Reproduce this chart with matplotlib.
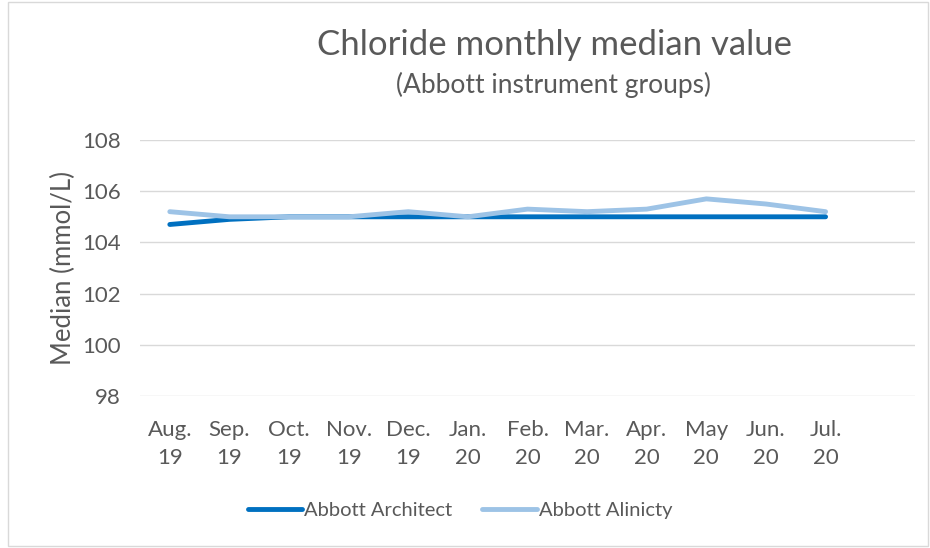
import numpy as np
import matplotlib.pyplot as plt
from matplotlib.patches import Rectangle

months = ['Aug.\n19', 'Sep.\n19', 'Oct.\n19', 'Nov.\n19', 'Dec.\n19', 'Jan.\n20',
          'Feb.\n20', 'Mar.\n20', 'Apr.\n20', 'May\n20', 'Jun.\n20', 'Jul.\n20']
architect = [104.7, 104.9, 105.0, 105.0, 105.0, 105.0, 105.0, 105.0, 105.0, 105.0, 105.0, 105.0]
alinicty = [105.2, 105.0, 105.0, 105.0, 105.2, 105.0, 105.3, 105.2, 105.3, 105.7, 105.5, 105.2]

plt.rcParams['font.family'] = ['Lato', 'DejaVu Sans']
GRAY = '#595959'

fig = plt.figure(figsize=(9.3, 5.48), dpi=100)
ax = fig.add_axes([140 / 930, 1 - 396 / 548, 775 / 930, 256 / 548])

x = np.arange(len(months))
ax.plot(x, architect, color='#0070C0', linewidth=3.5, solid_capstyle='round',
        label='Abbott Architect', zorder=3)
ax.plot(x, alinicty, color='#9DC3E6', linewidth=3.5, solid_capstyle='round',
        label='Abbott Alinicty', zorder=3)

ax.set_xlim(-0.5, len(months) + 0.5)
ax.set_ylim(98, 108)
ax.set_yticks(np.arange(98, 109, 2))
ax.set_xticks(x)
ax.set_xticklabels(months, color=GRAY, fontsize=16, linespacing=1.5)
ax.tick_params(axis='y', labelcolor=GRAY, labelsize=16, length=0, pad=14)
ax.tick_params(axis='x', length=0, pad=17)
ax.grid(axis='y', color='#D9D9D9', linewidth=1)
ax.set_axisbelow(True)
for s in ax.spines.values():
    s.set_visible(False)
ax.set_ylabel('Median (mmol/L)', color=GRAY, fontsize=18.5, labelpad=4)

fig.text(554 / 930, 1 - 45 / 548, 'Chloride monthly median value', ha='center', va='center',
         color=GRAY, fontsize=25)
fig.text(553 / 930, 1 - 85 / 548, '(Abbott instrument groups)', ha='center', va='center',
         color=GRAY, fontsize=19)

fig.legend(loc='center', bbox_to_anchor=(460 / 930, 1 - 510 / 548), ncol=2, frameon=False,
           fontsize=14.5, labelcolor=GRAY, handlelength=2.7, handletextpad=0.1, columnspacing=1.5)

fig.patches.append(Rectangle((8 / 930, 2 / 548), 920 / 930, 544 / 548, transform=fig.transFigure,
                             fill=False, edgecolor='#D9D9D9', linewidth=1))

fig.savefig('out.png', dpi=100)
